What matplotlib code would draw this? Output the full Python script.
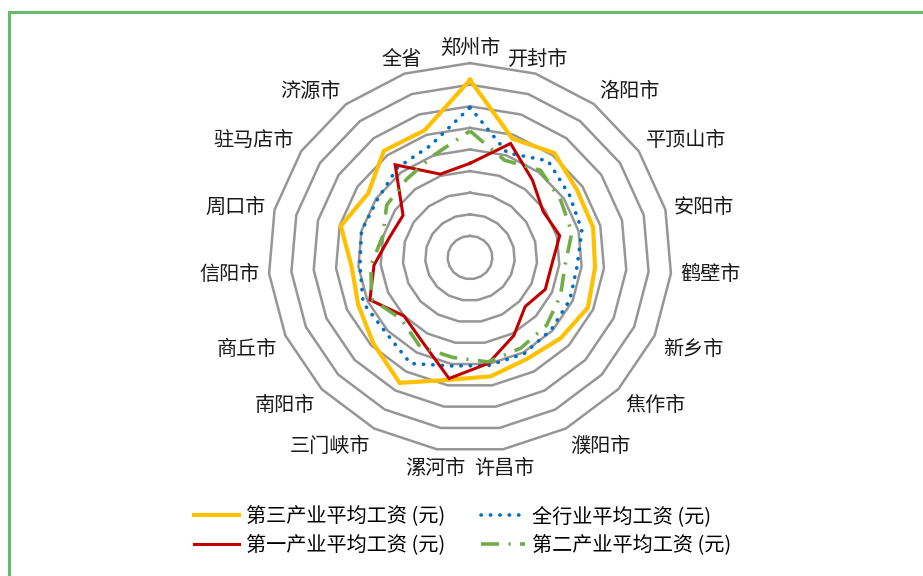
import numpy as np
import matplotlib.pyplot as plt
from matplotlib.patches import Rectangle

plt.rcParams['font.family'] = ['Noto Sans CJK SC', 'DejaVu Sans']

cities = ["郑州市", "开封市", "洛阳市", "平顶山市", "安阳市", "鹤壁市", "新乡市",
          "焦作市", "濮阳市", "许昌市", "漯河市", "三门峡市", "南阳市", "商丘市",
          "信阳市", "周口市", "驻马店市", "济源市", "全省"]

# average wages (yuan)
tertiary = [82200, 58200, 61300, 57100, 56700, 56000, 57500, 55100, 53400, 55800,
            57400, 66000, 58700, 54500, 53000, 59500, 54300, 62600, 62300]
overall = [69500, 51200, 56700, 53000, 51500, 48000, 48700, 49300, 50700, 50700,
           50900, 55800, 51200, 52100, 49300, 50000, 49300, 52700, 54700]
primary = [43600, 55800, 45400, 39000, 41300, 36700, 36700, 33500, 41100, 49700,
           56800, 44500, 40000, 48800, 43000, 37200, 35700, 54400, 40800]
secondary = [58600, 47600, 51200, 48400, 46900, 42600, 44100, 46400, 47700, 49000,
             46900, 46900, 41900, 48000, 44400, 40200, 44400, 46000, 50000]

ring_values = [10000, 20000, 30000, 40000, 50000, 60000, 70000, 80000, 90000]

n = len(cities)
theta = np.arange(n) * 2 * np.pi / n


def closed_xy(vals):
    v = np.append(vals, vals[0])
    t = np.append(theta, theta[0])
    return v * np.sin(t), v * np.cos(t)


fig = plt.figure(figsize=(9.23, 5.76), dpi=100)
ax = fig.add_axes([0, 0, 1, 1])
ax.set_axis_off()
# centre of the web at (470, 257) px, ~22.4 px per 10000 across, 21.6 px down
ax.set_xlim(-470 / 22.4 * 10000, (923 - 470) / 22.4 * 10000)
ax.set_ylim(-(576 - 257.5) / 21.6 * 10000, 257.5 / 21.6 * 10000)

for rv in ring_values:
    gx, gy = closed_xy(np.full(n, rv))
    ax.plot(gx, gy, color='#969696', lw=1.8, zorder=1)

series = [
    ("第三产业平均工资 (元)", tertiary, dict(color='#ffc000', lw=3.0, ls='-')),
    ("全行业平均工资 (元)", overall, dict(color='#0070c0', lw=2.6, ls=(0, (0.1, 2.5)),
                                      dash_capstyle='round')),
    ("第一产业平均工资 (元)", primary, dict(color='#c00000', lw=2.2, ls='-')),
    ("第二产业平均工资 (元)", secondary, dict(color='#70ad47', lw=2.6,
                                        ls=(0, (5, 2.6, 0.6, 2.6)))),
]
handles = {}
for name, vals, style in series:
    sx, sy = closed_xy(np.array(vals, dtype=float))
    line, = ax.plot(sx, sy, label=name, zorder=3, solid_joinstyle='miter', **style)
    handles[name] = line

# category labels round the outer ring
r_lab = 94000
for name, t in zip(cities, theta):
    s, c = np.sin(t), np.cos(t)
    ha = 'left' if s > 0.4 else ('right' if s < -0.4 else 'center')
    va = 'bottom' if c > 0.35 else ('top' if c < -0.35 else 'center')
    ly = r_lab * c - (2000 if va == 'bottom' else 0)
    ax.text(r_lab * s, ly, name, ha=ha, va=va, fontsize=14.5, color='#1a1a1a')

order = ["第三产业平均工资 (元)", "第一产业平均工资 (元)",
         "全行业平均工资 (元)", "第二产业平均工资 (元)"]
fig.legend([handles[k] for k in order], order, ncol=2, loc='center',
           bbox_to_anchor=(463 / 923, 1 - 531 / 576), frameon=False, fontsize=14.5,
           handlelength=2.2, handletextpad=0.35, columnspacing=1.8, labelspacing=0.4)

fig.patches.append(Rectangle((9 / 923, -0.1), 1.2, 1.1 - 12 / 576, transform=fig.transFigure,
                             fill=False, edgecolor='#66bb6a', lw=2.2))

plt.savefig("out.png", dpi=100)
